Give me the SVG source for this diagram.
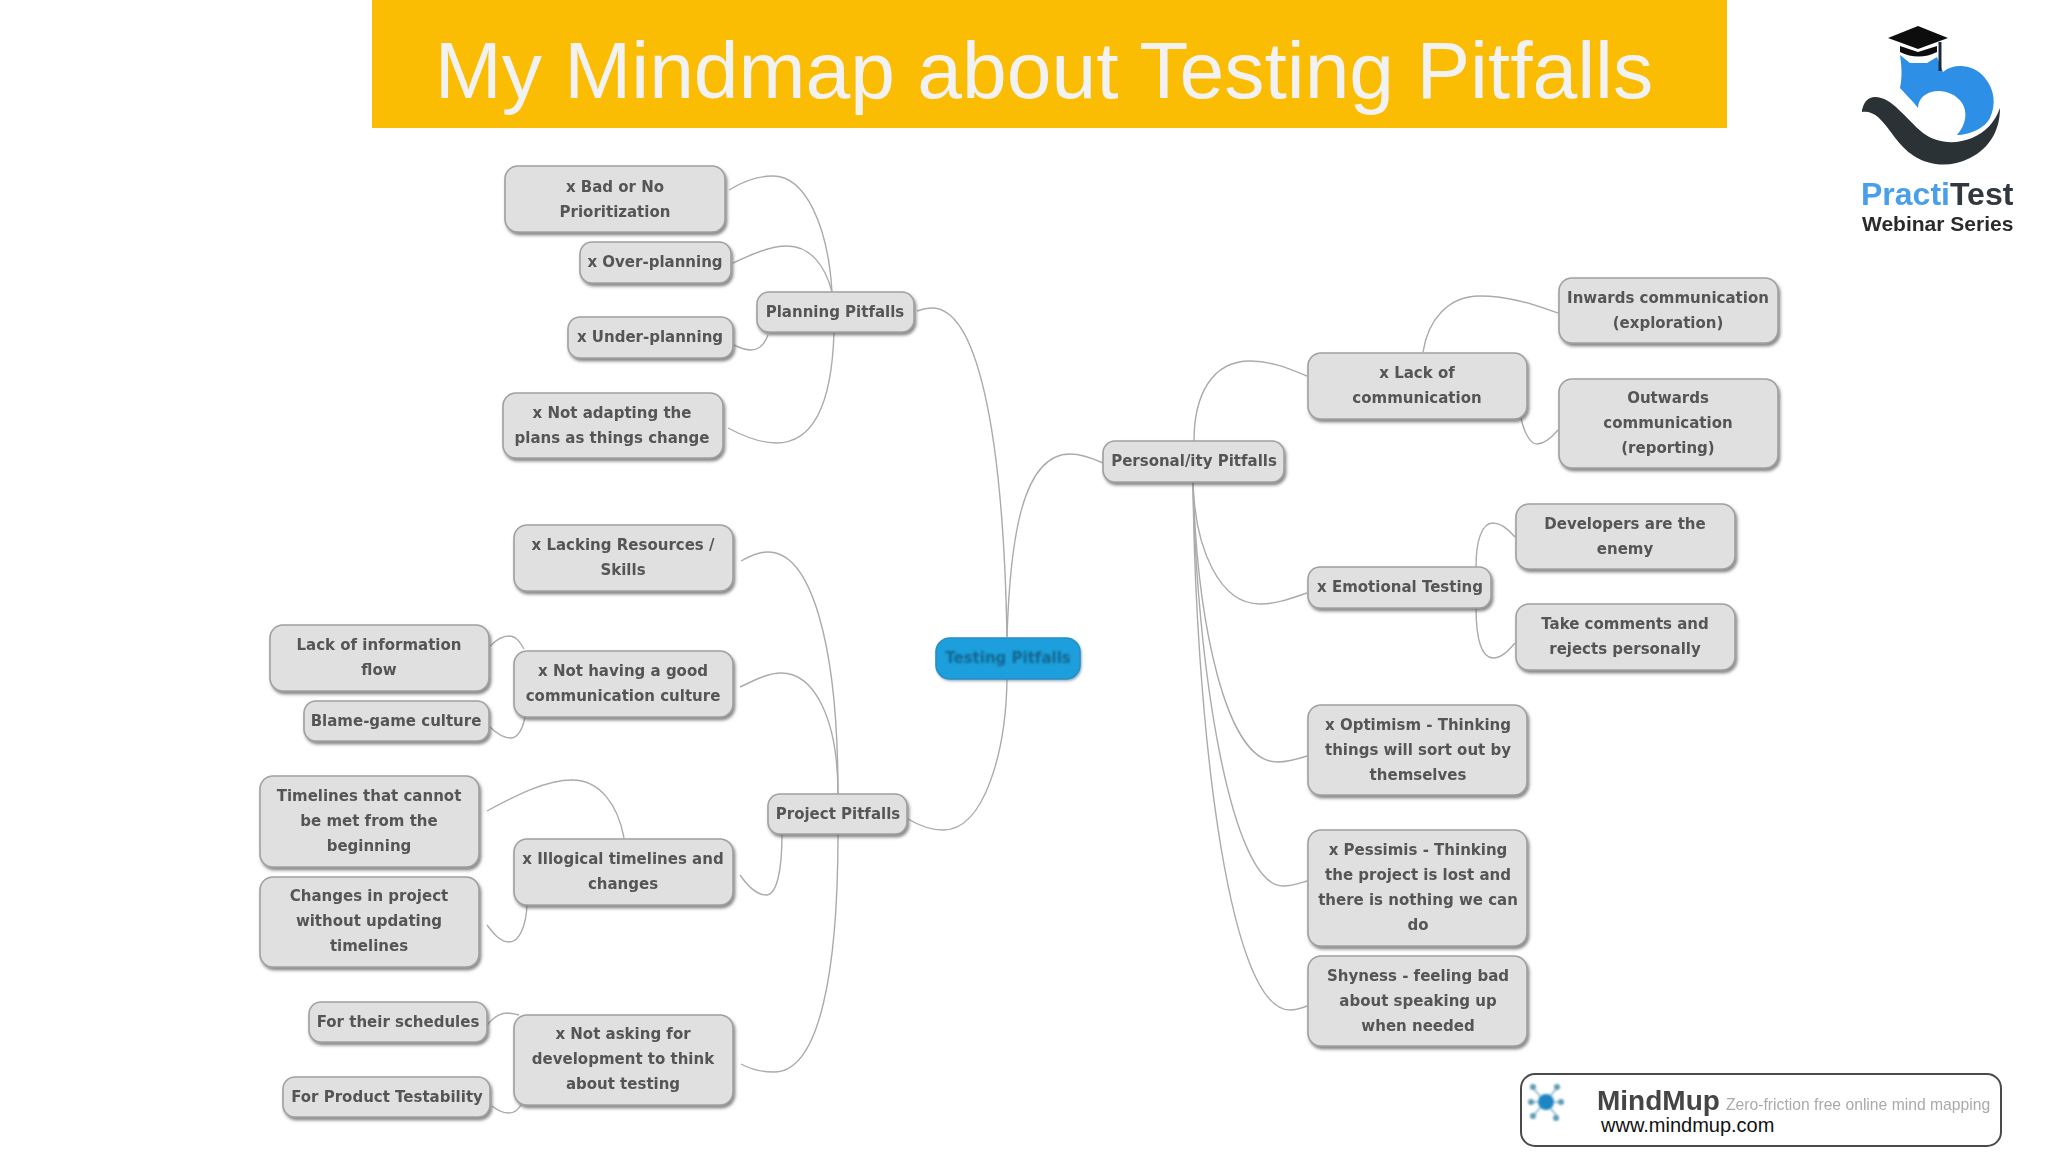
<svg xmlns="http://www.w3.org/2000/svg" width="2048" height="1152" viewBox="0 0 2048 1152">
<style>
.box{fill:#e0e0e0;stroke:#a0a0a0;stroke-width:1.6;filter:url(#shadow)}
.root{fill:#1c9fdc;stroke:#2a8fc4;stroke-width:1.6;filter:url(#shadow2)}
text{font-family:"DejaVu Sans",sans-serif}
.t{font-size:15px;font-weight:700;fill:#555;text-anchor:middle;filter:url(#soft)}
.rt{font-size:15px;font-weight:700;fill:#14668f;text-anchor:middle;filter:url(#soft2)}
.c{fill:none;stroke:#ababab;stroke-width:1.4;filter:url(#line)}
.lg{font-family:"Liberation Sans",Arial,sans-serif;font-weight:700}
</style>
<defs>
<filter id="shadow" x="-10%" y="-15%" width="120%" height="135%"><feGaussianBlur in="SourceGraphic" stdDeviation="0.6" result="b"/><feDropShadow in="b" dx="1.6" dy="2.6" stdDeviation="1.6" flood-color="#555" flood-opacity="0.7"/></filter>
<filter id="shadow2" x="-10%" y="-15%" width="120%" height="135%"><feGaussianBlur in="SourceGraphic" stdDeviation="0.6" result="b"/><feDropShadow in="b" dx="1" dy="1.5" stdDeviation="1" flood-color="#5a7f99" flood-opacity="0.6"/></filter>
<filter id="soft" x="-5%" y="-20%" width="110%" height="140%"><feGaussianBlur stdDeviation="0.7"/></filter>
<filter id="soft2" x="-5%" y="-20%" width="110%" height="140%"><feGaussianBlur stdDeviation="0.9"/></filter>
<filter id="line" filterUnits="userSpaceOnUse" x="0" y="0" width="2048" height="1152"><feGaussianBlur stdDeviation="0.4"/></filter>
</defs>
<rect width="2048" height="1152" fill="#fff"/>
<g id="banner">
<rect x="372" y="0" width="1355" height="128" fill="#fbbc04"/>
<text x="1044" y="98" text-anchor="middle" style="font-family:'Liberation Sans',Arial,sans-serif;font-size:80.4px;fill:#f2f2f2">My Mindmap about Testing Pitfalls</text>
</g>
<g id="practitest-logo">
<g filter="url(#line)">
<path d="M1900 55 L1910 63 L1927 63 L1937 57 L1943 72 C1955 62 1975 65 1985 78 C1995 90 1996 105 1990 118 C1985 128 1970 135 1957 135 C1966 125 1968 112 1962 103 C1953 90 1935 88 1925 95 C1920 98 1918 104 1918 108 C1912 100 1908 97 1900 88 C1902 78 1902 68 1900 55 Z" fill="#2f8fe6"/>
<path d="M1862 110 C1864 102 1868 97 1875 97 C1892 97 1905 118 1923 133 C1936 143 1955 145 1972 138 C1986 132 1995 122 2000 108 C2000 130 1990 148 1970 158 C1950 168 1930 166 1914 156 C1898 146 1890 128 1878 117 C1873 113 1868 111 1862 112 Z" fill="#2c3136"/>
<path d="M1888 38 L1918 26 L1948 38 L1918 49 Z" fill="#111"/>
<path d="M1900 46 L1918 52 L1937 46 L1937 52 C1925 58 1912 58 1900 52 Z" fill="#111"/>
<path d="M1940 42 L1940 71" stroke="#1f2a3a" stroke-width="3" fill="none"/>
</g>
<text class="lg" x="1861" y="205" style="font-size:32px;fill:#4a9fea;filter:url(#soft)">Practi<tspan fill="#33383d">Test</tspan></text>
<text class="lg" x="1862" y="231" style="font-size:21px;fill:#2b2b2b;filter:url(#soft)">Webinar Series</text>
</g>
<g id="connectors">
<path class="c" d="M729 190 C745 180 760 176 773 176 C805 176 828 225 832 292"/>
<path class="c" d="M733 263 C750 255 770 246 787 246 C810 246 825 265 832 292"/>
<path class="c" d="M734 345 C740 348 745 350 751 350 C760 350 765 343 768 335"/>
<path class="c" d="M728 428 C745 437 760 443 776 443 C815 443 832 400 834 332"/>
<path class="c" d="M917 311 C922 309 927 308 932 308 C975 308 1003 420 1007 637"/>
<path class="c" d="M1007 637 C1010 540 1022 454 1070 454 C1082 454 1092 458 1103 463"/>
<path class="c" d="M1007 679 C1006 750 985 830 943 830 C930 830 918 825 908 819"/>
<path class="c" d="M741 561 C750 556 758 552 768 552 C810 552 838 640 838 794"/>
<path class="c" d="M740 687 C755 680 768 673 781 673 C815 673 838 720 838 794"/>
<path class="c" d="M490 646 C496 640 502 636 509 636 C516 636 520 642 524 649"/>
<path class="c" d="M490 727 C496 733 503 738 511 738 C518 738 523 728 525 717"/>
<path class="c" d="M487 811 C515 796 545 780 572 780 C600 780 618 805 624 838"/>
<path class="c" d="M487 925 C493 933 500 942 509 942 C520 942 526 925 527 905"/>
<path class="c" d="M740 875 C747 885 757 895 766 895 C777 895 782 870 782 834"/>
<path class="c" d="M741 1064 C750 1069 762 1072 774 1072 C820 1072 838 970 838 834"/>
<path class="c" d="M487 1025 C493 1018 500 1013 507 1013 C511 1013 515 1014 519 1015"/>
<path class="c" d="M492 1106 C497 1110 503 1113 509 1113 C514 1113 518 1110 521 1105"/>
<path class="c" d="M1194 441 C1194 395 1212 361 1250 361 C1272 361 1290 369 1307 376"/>
<path class="c" d="M1193 482 C1195 550 1220 604 1260 604 C1277 604 1292 598 1307 593"/>
<path class="c" d="M1193 482 C1197 620 1225 762 1277 762 C1288 762 1298 759 1307 756"/>
<path class="c" d="M1193 482 C1196 660 1230 886 1283 886 C1292 886 1300 883 1307 881"/>
<path class="c" d="M1193 482 C1195 700 1225 1010 1290 1010 C1296 1010 1302 1008 1307 1006"/>
<path class="c" d="M1423 352 C1428 320 1448 296 1480 296 C1510 296 1535 305 1558 313"/>
<path class="c" d="M1521 418 C1524 432 1530 444 1537 444 C1545 444 1552 437 1558 430"/>
<path class="c" d="M1476 567 C1476 540 1482 523 1493 523 C1502 523 1509 530 1515 537"/>
<path class="c" d="M1476 608 C1476 640 1482 658 1493 658 C1502 658 1509 650 1515 643"/>
</g>
<g id="node-root"><rect class="root" x="936" y="638" width="144" height="41" rx="14"/><text class="rt" x="1008" y="663">Testing Pitfalls</text></g>
<g id="node-planning"><rect class="box" x="757" y="292" width="157" height="40" rx="12"/><text class="t" x="835" y="317">Planning Pitfalls</text></g>
<g id="node-bad"><rect class="box" x="505" y="166" width="220" height="66" rx="13"/><text class="t" x="615" y="192">x Bad or No</text><text class="t" x="615" y="217">Prioritization</text></g>
<g id="node-over"><rect class="box" x="580" y="242" width="151" height="41" rx="12"/><text class="t" x="655" y="267">x Over-planning</text></g>
<g id="node-under"><rect class="box" x="568" y="317" width="165" height="41" rx="12"/><text class="t" x="650" y="342">x Under-planning</text></g>
<g id="node-adapt"><rect class="box" x="503" y="393" width="220" height="65" rx="13"/><text class="t" x="612" y="418">x Not adapting the</text><text class="t" x="612" y="443">plans as things change</text></g>
<g id="node-project"><rect class="box" x="768" y="794" width="139" height="40" rx="12"/><text class="t" x="838" y="819">Project Pitfalls</text></g>
<g id="node-lacking"><rect class="box" x="514" y="525" width="219" height="66" rx="13"/><text class="t" x="623" y="550">x Lacking Resources /</text><text class="t" x="623" y="575">Skills</text></g>
<g id="node-culture"><rect class="box" x="514" y="651" width="219" height="66" rx="13"/><text class="t" x="623" y="676">x Not having a good</text><text class="t" x="623" y="701">communication culture</text></g>
<g id="node-info"><rect class="box" x="270" y="625" width="219" height="66" rx="13"/><text class="t" x="379" y="650">Lack of information</text><text class="t" x="379" y="675">flow</text></g>
<g id="node-blame"><rect class="box" x="304" y="701" width="185" height="40" rx="12"/><text class="t" x="396" y="726">Blame-game culture</text></g>
<g id="node-illogical"><rect class="box" x="514" y="839" width="219" height="66" rx="13"/><text class="t" x="623" y="864">x Illogical timelines and</text><text class="t" x="623" y="889">changes</text></g>
<g id="node-timelines"><rect class="box" x="260" y="776" width="219" height="91" rx="13"/><text class="t" x="369" y="801">Timelines that cannot</text><text class="t" x="369" y="826">be met from the</text><text class="t" x="369" y="851">beginning</text></g>
<g id="node-changes"><rect class="box" x="260" y="877" width="219" height="90" rx="13"/><text class="t" x="369" y="901">Changes in project</text><text class="t" x="369" y="926">without updating</text><text class="t" x="369" y="951">timelines</text></g>
<g id="node-asking"><rect class="box" x="514" y="1015" width="219" height="90" rx="13"/><text class="t" x="623" y="1039">x Not asking for</text><text class="t" x="623" y="1064">development to think</text><text class="t" x="623" y="1089">about testing</text></g>
<g id="node-schedules"><rect class="box" x="309" y="1002" width="178" height="40" rx="12"/><text class="t" x="398" y="1027">For their schedules</text></g>
<g id="node-testability"><rect class="box" x="283" y="1077" width="207" height="40" rx="12"/><text class="t" x="387" y="1102">For Product Testability</text></g>
<g id="node-personal"><rect class="box" x="1103" y="441" width="181" height="41" rx="12"/><text class="t" x="1194" y="466">Personal/ity Pitfalls</text></g>
<g id="node-lackcomm"><rect class="box" x="1308" y="353" width="219" height="66" rx="13"/><text class="t" x="1417" y="378">x Lack of</text><text class="t" x="1417" y="403">communication</text></g>
<g id="node-inwards"><rect class="box" x="1559" y="278" width="219" height="65" rx="13"/><text class="t" x="1668" y="303">Inwards communication</text><text class="t" x="1668" y="328">(exploration)</text></g>
<g id="node-outwards"><rect class="box" x="1559" y="379" width="219" height="89" rx="13"/><text class="t" x="1668" y="403">Outwards</text><text class="t" x="1668" y="428">communication</text><text class="t" x="1668" y="453">(reporting)</text></g>
<g id="node-emotional"><rect class="box" x="1308" y="567" width="183" height="41" rx="12"/><text class="t" x="1400" y="592">x Emotional Testing</text></g>
<g id="node-developers"><rect class="box" x="1516" y="504" width="219" height="65" rx="13"/><text class="t" x="1625" y="529">Developers are the</text><text class="t" x="1625" y="554">enemy</text></g>
<g id="node-comments"><rect class="box" x="1516" y="604" width="219" height="66" rx="13"/><text class="t" x="1625" y="629">Take comments and</text><text class="t" x="1625" y="654">rejects personally</text></g>
<g id="node-optimism"><rect class="box" x="1308" y="705" width="219" height="90" rx="13"/><text class="t" x="1418" y="730">x Optimism - Thinking</text><text class="t" x="1418" y="755">things will sort out by</text><text class="t" x="1418" y="780">themselves</text></g>
<g id="node-pessimis"><rect class="box" x="1308" y="830" width="219" height="116" rx="13"/><text class="t" x="1418" y="855">x Pessimis - Thinking</text><text class="t" x="1418" y="880">the project is lost and</text><text class="t" x="1418" y="905">there is nothing we can</text><text class="t" x="1418" y="930">do</text></g>
<g id="node-shyness"><rect class="box" x="1308" y="956" width="219" height="90" rx="13"/><text class="t" x="1418" y="981">Shyness - feeling bad</text><text class="t" x="1418" y="1006">about speaking up</text><text class="t" x="1418" y="1031">when needed</text></g>
<g id="mindmup-badge">
<rect x="1521" y="1074" width="480" height="72" rx="14" fill="#fff" stroke="#4a4a4a" stroke-width="2"/>
<g filter="url(#soft2)">
<g stroke="#7fb4c9" stroke-width="1.5"><path d="M1545 1102 L1533 1088 M1545 1102 L1557 1088 M1545 1102 L1531 1102 M1545 1102 L1561 1102 M1545 1102 L1533 1116 M1545 1102 L1557 1116"/></g>
<circle cx="1546" cy="1102" r="8" fill="#1f86c4"/>
<g fill="#5f9ab3"><circle cx="1533" cy="1087" r="3"/><circle cx="1557" cy="1087" r="3"/><circle cx="1531" cy="1102" r="3"/><circle cx="1561" cy="1102" r="3"/><circle cx="1533" cy="1116" r="3"/><circle cx="1556" cy="1118" r="3"/></g>
</g>
<text class="lg" x="1597" y="1110" style="font-size:28px;fill:#444;filter:url(#soft)">MindMup</text>
<text x="1726" y="1110" style="font-family:'Liberation Sans',Arial,sans-serif;font-size:15.7px;fill:#aaa;filter:url(#soft)">Zero-friction free online mind mapping</text>
<text x="1601" y="1132" style="font-family:'Liberation Sans',Arial,sans-serif;font-size:20px;fill:#111">www.mindmup.com</text>
</g>
</svg>
